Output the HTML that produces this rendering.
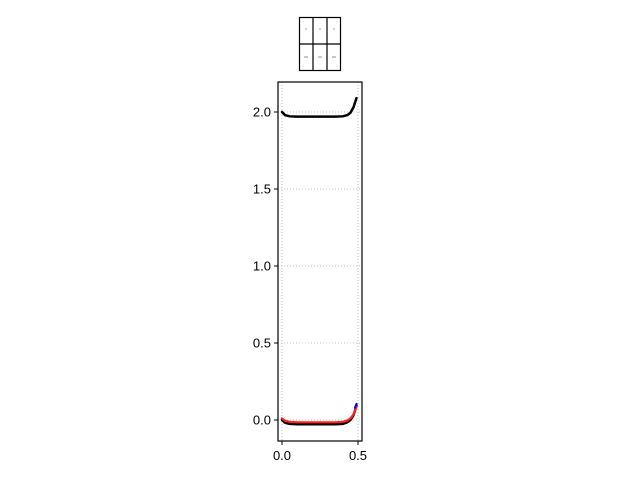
<!DOCTYPE html>
<html><head><meta charset="utf-8"><style>
body{margin:0;background:#fff;font-family:"Liberation Sans",sans-serif;}
svg{display:block}
</style></head><body>
<svg id="chart" width="640" height="480" xmlns="http://www.w3.org/2000/svg"></svg>
<script>
const xVals=[0,0.02,0.05,0.1,0.15,0.2,0.25,0.3,0.35,0.4,0.43,0.45,0.47,0.48,0.49];
const upperBlack=[2.0,1.98,1.972,1.97,1.97,1.97,1.97,1.97,1.97,1.972,1.98,1.995,2.03,2.06,2.09];
const lowerBlack=[0.0,-0.018,-0.025,-0.028,-0.028,-0.028,-0.028,-0.028,-0.028,-0.025,-0.015,0.0,0.03,0.06,0.095];
const redSeries=[0.01,-0.005,-0.012,-0.015,-0.015,-0.015,-0.015,-0.015,-0.015,-0.012,-0.003,0.01,0.035,0.06,0.085];
const blueX=[0.48,0.49];
const blueY=[0.08,0.105];
const xTicks=[0,0.5];
const xTickLabels=["0.0","0.5"];
const yTicks=[0,0.5,1,1.5,2];
const yTickLabels=["0.0","0.5","1.0","1.5","2.0"];
const NS="http://www.w3.org/2000/svg";
const svg=document.getElementById('chart');
const L=278,R=362,T=82,B=441;
function xs(v){return 282+v*152;}
function ys(v){return 420-v*154;}
function mk(tag,attrs,parent){const e=document.createElementNS(NS,tag);for(const k in attrs)e.setAttribute(k,attrs[k]);(parent||svg).appendChild(e);return e;}
xTicks.forEach(t=>{const g=mk('line',{x1:xs(t),x2:xs(t),y1:T,y2:B,stroke:'#b0b0b0','stroke-width':0.8,'stroke-dasharray':'1,2'});

});
yTicks.forEach(t=>{const g=mk('line',{x1:L,x2:R,y1:ys(t),y2:ys(t),stroke:'#b0b0b0','stroke-width':0.8,'stroke-dasharray':'1,2'});

});
function line(xa,ya,color,w,name){const d=xa.map((x,i)=>(i?'L':'M')+xs(x)+','+ys(ya[i])).join(' ');
const p=mk('path',{d:d,fill:'none',stroke:color,'stroke-width':w,'stroke-linecap':'round'});

}
line(xVals,lowerBlack,'#000',2.5,'lower-black-curve');
line(xVals,redSeries,'#ff2020',2.2,'red-curve');
line(blueX,blueY,'#0000ff',2,'blue-curve');
line(xVals,upperBlack,'#000',2.5,'upper-black-curve');
const f=mk('rect',{x:L,y:T,width:R-L,height:B-T,fill:'none',stroke:'#000','stroke-width':1.2});


xTicks.forEach((t,i)=>{mk('line',{x1:xs(t),x2:xs(t),y1:B,y2:B+4,stroke:'#000'});
const tx=mk('text',{x:xs(t),y:B+19,'font-size':13,'text-anchor':'middle',fill:'#000'});tx.textContent=xTickLabels[i];

});
yTicks.forEach((t,i)=>{mk('line',{x1:L-4,x2:L,y1:ys(t),y2:ys(t),stroke:'#000'});
const tx=mk('text',{x:L-7,y:ys(t)+4.5,'font-size':13,'text-anchor':'end',fill:'#000'});tx.textContent=yTickLabels[i];

});
const lg=mk('g',{});


mk('rect',{x:299.5,y:17.5,width:41,height:53,fill:'#fff',stroke:'#000','stroke-width':1.2},lg);
[313,327].forEach(x=>mk('line',{x1:x,x2:x,y1:17.5,y2:70.5,stroke:'#000','stroke-width':1.2},lg));
mk('line',{x1:299.5,x2:340.5,y1:44,y2:44,stroke:'#000','stroke-width':1.2},lg);
[306,320,334].forEach(x=>{mk('circle',{cx:x,cy:29,r:0.6,fill:'#666'},lg);mk('line',{x1:x-2,x2:x+2,y1:57,y2:57,stroke:'#777','stroke-width':0.8},lg);});
</script>
</body></html>
